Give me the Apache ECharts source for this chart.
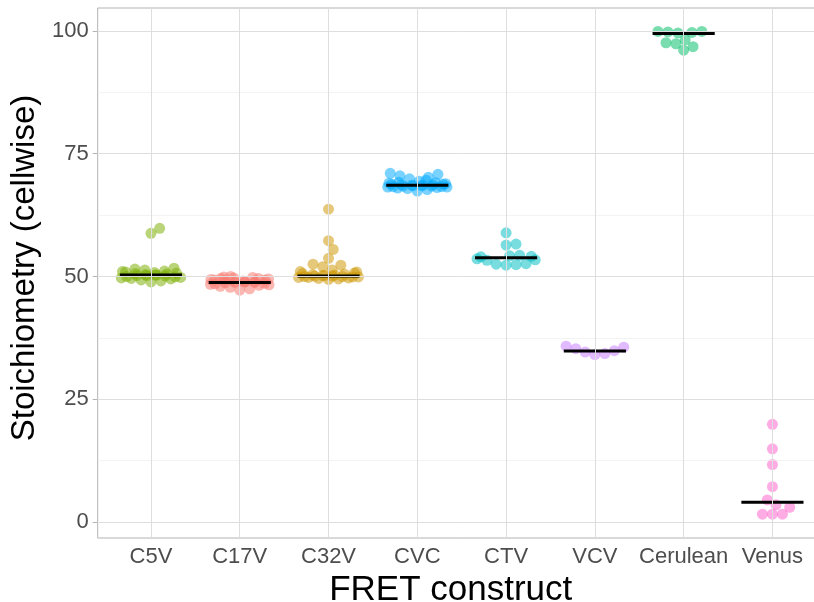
<!DOCTYPE html>
<html>
<head>
<meta charset="utf-8">
<script src="https://cdn.jsdelivr.net/npm/echarts@6/dist/echarts.min.js"></script>
<style>
  html, body { margin: 0; padding: 0; background: #ffffff; }
  #chart { width: 814px; height: 602px; }
</style>
</head>
<body>
<div id="chart"></div>
<script>
// FRET constructs on the x axis
const constructs = ['C5V', 'C17V', 'C32V', 'CVC', 'CTV', 'VCV', 'Cerulean', 'Venus'];
const groupColors = ['#7CAE00', '#F8766D', '#CD9600', '#00A9FF', '#00BFC4', '#C77CFF', '#00BE67', '#FF61CC'];

// Cellwise stoichiometry per construct
const c5v = [48.9, 49.1, 49.3, 49.5, 49.6, 49.7, 49.8, 49.9, 50.0, 50.1, 50.2, 50.2, 50.3,
             50.3, 50.4, 50.5, 50.6, 50.7, 50.8, 50.9, 51.0, 51.1, 51.3, 51.5, 51.7, 58.8, 59.8];
const c17v = [47.2, 47.5, 47.8, 48.0, 48.2, 48.3, 48.4, 48.5, 48.6, 48.7, 48.8, 48.8, 48.9,
              48.9, 49.0, 49.0, 49.1, 49.2, 49.3, 49.3, 49.4, 49.5, 49.6, 49.6, 49.7, 49.8, 49.9, 50.0];
const c32v = [49.4, 49.5, 49.6, 49.7, 49.8, 49.8, 49.9, 49.9, 50.0, 50.0, 50.1, 50.1, 50.2,
              50.2, 50.3, 50.4, 50.5, 50.6, 50.7, 50.9, 51.0, 51.3, 52.0, 52.3, 52.5, 53.7,
              55.5, 57.3, 63.7];
const cvc = [67.4, 67.7, 67.9, 68.0, 68.1, 68.2, 68.2, 68.3, 68.3, 68.4, 68.4, 68.5, 68.5,
             68.6, 68.6, 68.7, 68.7, 68.8, 68.8, 68.9, 69.0, 69.1, 69.2, 69.4, 69.6, 69.9,
             70.2, 70.5, 70.8, 71.0];
const ctv = [52.3, 52.4, 52.5, 52.6, 53.3, 53.4, 53.6, 54.0, 54.1, 54.2, 54.3, 56.4, 56.6, 58.9];
const vcv = [34.1, 34.3, 34.6, 34.9, 35.3, 35.6, 35.8];
const cerulean = [96.1, 96.8, 97.4, 97.6, 98.2, 99.6, 99.7, 99.8, 99.9, 99.9];
const venus = [1.6, 1.6, 1.6, 3.0, 3.5, 4.5, 7.2, 11.7, 14.9, 19.9];

const groupValues = [c5v, c17v, c32v, cvc, ctv, vcv, cerulean, venus];

// Median per construct (horizontal black bars)
const medians = [50.3, 48.8, 50.1, 68.6, 53.8, 34.8, 99.5, 4.0];

// Axis ticks and grid positions
const yTicks = [0, 25, 50, 75, 100];
const yMinorTicks = [12.5, 37.5, 62.5, 87.5];
const xTicks = constructs.map((_, i) => i + 1);

// Panel geometry (the panel runs slightly past the right edge of the canvas)
const GRID = { left: 97.7, top: 8, width: 728, height: 530 };
const X_MIN = 0.4, X_MAX = 8.6;
const Y_MIN = -3.26, Y_MAX = 104.68;
const pxPerX = GRID.width / (X_MAX - X_MIN);
const pxPerY = GRID.height / (Y_MAX - Y_MIN);

const POINT_SIZE = 11;
const SWARM_SPACING = 10;      // minimum centre distance between points, px
const CORRAL_WIDTH = 0.72;     // full width of each swarm band, x units
const BAR_HALF = 0.35;         // half width of median bars, x units

// Beeswarm layout: place points from low to high value at the smallest
// horizontal offset that keeps them clear of earlier points; offsets that
// run past the band wrap around to its other side.
function swarmOffsets(values) {
  const order = values.map((_, i) => i).sort((a, b) => values[a] - values[b]);
  const placed = [];
  const offsets = new Array(values.length).fill(0);
  const s = SWARM_SPACING;
  for (const i of order) {
    const y = values[i] * pxPerY;
    const candidates = [0];
    for (const p of placed) {
      const dy = Math.abs(y - p.y);
      if (dy < s) {
        const dx = Math.sqrt(s * s - dy * dy);
        candidates.push(p.x + dx, p.x - dx);
      }
    }
    const free = candidates.filter(cx =>
      placed.every(p => Math.hypot(cx - p.x, y - p.y) >= s - 1e-6));
    free.sort((a, b) => Math.abs(a) - Math.abs(b));
    const x = free.length ? free[0] : 0;
    placed.push({ x, y });
    offsets[i] = x / pxPerX;
  }
  const w = CORRAL_WIDTH, h = w / 2;
  return offsets.map(o => (Math.abs(o) <= h ? o : ((((o + h) % w) + w) % w) - h));
}

function hexToRgba(hex, a) {
  const n = parseInt(hex.slice(1), 16);
  return `rgba(${(n >> 16) & 255},${(n >> 8) & 255},${n & 255},${a})`;
}

const FONT = "'Liberation Sans', Arial, Helvetica, sans-serif";
const MAJOR_GRID = '#DEDEDE';
const MINOR_GRID = '#EBEBEB';
const FRAME = '#B3B3B3';

const series = [];

// Panel grid lines
series.push({
  type: 'line',
  data: [],
  z: 0,
  silent: true,
  markLine: {
    silent: true,
    symbol: ['none', 'none'],
    animation: false,
    label: { show: false },
    emphasis: { disabled: true },
    data: [
      ...yMinorTicks.map(v => ({ yAxis: v, lineStyle: { color: MINOR_GRID, width: 0.6, type: 'solid' } })),
      ...yTicks.map(v => ({ yAxis: v, lineStyle: { color: MAJOR_GRID, width: 1, type: 'solid' } })),
      ...xTicks.map(v => ({ xAxis: v, lineStyle: { color: MAJOR_GRID, width: 1, type: 'solid' } }))
    ]
  }
});

// Points per construct
groupValues.forEach((vals, g) => {
  const offs = swarmOffsets(vals);
  series.push({
    type: 'scatter',
    name: constructs[g],
    z: 2,
    symbol: 'circle',
    symbolSize: POINT_SIZE,
    itemStyle: { color: hexToRgba(groupColors[g], 0.66) },
    data: vals.map((v, k) => [g + 1 + offs[k], v])
  });
});

// Median bars
medians.forEach((m, g) => {
  series.push({
    type: 'line',
    z: 3,
    symbol: 'none',
    silent: true,
    lineStyle: { color: '#000000', width: 3 },
    data: [[g + 1 - BAR_HALF, m], [g + 1 + BAR_HALF, m]]
  });
});

const chart = echarts.init(document.getElementById('chart'), null, { renderer: 'canvas' });
chart.setOption({
  animation: false,
  backgroundColor: '#ffffff',
  grid: {
    left: GRID.left, top: GRID.top, width: GRID.width, height: GRID.height,
    show: true, borderColor: FRAME, borderWidth: 1, backgroundColor: 'transparent',
    containLabel: false,
    outerBoundsMode: 'none'
  },
  xAxis: {
    type: 'value',
    min: X_MIN, max: X_MAX,
    name: 'FRET construct',
    nameLocation: 'middle',
    nameGap: 30,
    nameTextStyle: { fontFamily: FONT, fontSize: 35, color: '#000000', padding: [0, 22, 0, 0] },
    axisLine: { show: false },
    splitLine: { show: false },
    axisTick: { show: true, customValues: xTicks, length: 5, lineStyle: { color: FRAME } },
    axisLabel: {
      customValues: xTicks,
      formatter: v => constructs[Math.round(v) - 1],
      fontFamily: FONT, fontSize: 22, color: '#4D4D4D', margin: 8
    }
  },
  yAxis: {
    type: 'value',
    min: Y_MIN, max: Y_MAX,
    name: 'Stoichiometry (cellwise)',
    nameLocation: 'middle',
    nameRotate: 90,
    nameGap: 53,
    nameTextStyle: { fontFamily: FONT, fontSize: 33, color: '#000000', padding: [0, 0, 0, 10] },
    axisLine: { show: false },
    splitLine: { show: false },
    axisTick: { show: true, customValues: yTicks, length: 5, lineStyle: { color: FRAME } },
    axisLabel: {
      customValues: yTicks,
      fontFamily: FONT, fontSize: 22, color: '#4D4D4D', margin: 9
    }
  },
  series
});
</script>
</body>
</html>
